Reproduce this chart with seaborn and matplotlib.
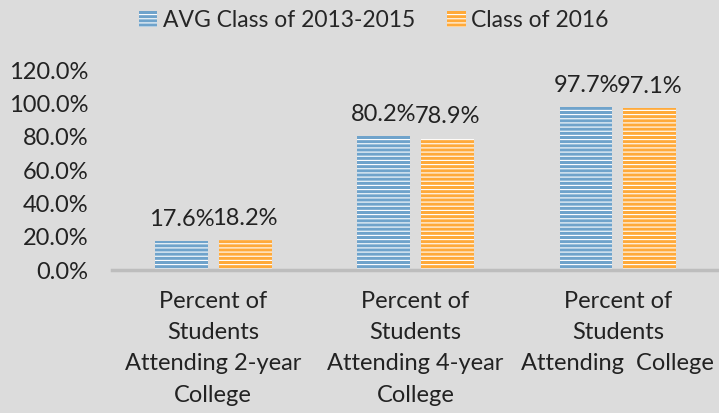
import pandas as pd
import matplotlib
matplotlib.use("Agg")
import matplotlib.pyplot as plt
import seaborn as sns
from matplotlib.ticker import PercentFormatter

categories = ["Percent of\nStudents\nAttending 2-year\nCollege",
              "Percent of\nStudents\nAttending 4-year\nCollege",
              "Percent of\nStudents\nAttending  College"]
series = ["AVG Class of 2013-2015", "Class of 2016"]
avg_2013_2015 = [17.6, 80.2, 97.7]
class_2016 = [18.2, 78.9, 97.1]

df = pd.DataFrame({
    "category": categories * 2,
    "series": [series[0]] * 3 + [series[1]] * 3,
    "value": avg_2013_2015 + class_2016,
})

sns.set_style("white")
plt.rcParams["font.family"] = ["Lato", "DejaVu Sans"]
plt.rcParams["hatch.linewidth"] = 0.8

bg = "#DCDCDC"
colors = ["#6FA3CB", "#FFAA3A"]
fs = 17

fig = plt.figure(figsize=(7.19, 4.13), dpi=100, facecolor=bg)
ax = fig.add_axes([0.156, 0.346, 0.844, 0.4845])
ax.set_facecolor(bg)

sns.barplot(data=df, x="category", y="value", hue="series", palette=colors,
            width=0.63, gap=0.17, ax=ax, legend=False, saturation=1)

for cont in ax.containers:
    for p in cont:
        p.set_hatch("----")
        p.set_edgecolor("white")
        p.set_linewidth(0)
    ax.bar_label(cont, fmt="%.1f%%", padding=8, fontsize=fs, color="#222222")

ax.set_ylim(0, 120)
ax.set_yticks(range(0, 121, 20))
ax.yaxis.set_major_formatter(PercentFormatter(decimals=1))
ax.set_xlim(-0.5, 2.5)
ax.set_xlabel("")
ax.set_ylabel("")
for s in ["top", "right", "left"]:
    ax.spines[s].set_visible(False)
ax.spines["bottom"].set_color("#BDBDBD")
ax.spines["bottom"].set_linewidth(2.5)
ax.tick_params(axis="both", length=0, labelsize=fs, colors="#222222")
ax.tick_params(axis="y", pad=17)
ax.tick_params(axis="x", pad=15)
for lbl in ax.get_xticklabels():
    lbl.set_linespacing(1.6)

handles = [ax.containers[0][0], ax.containers[1][0]]
fig.legend(handles, series, loc="upper center", bbox_to_anchor=(0.52, 1.025),
           ncol=2, frameon=False, fontsize=16.5, handlelength=0.8,
           handleheight=0.7, columnspacing=1.4, handletextpad=0.25)

fig.savefig("out.png", dpi=100, facecolor=bg)
